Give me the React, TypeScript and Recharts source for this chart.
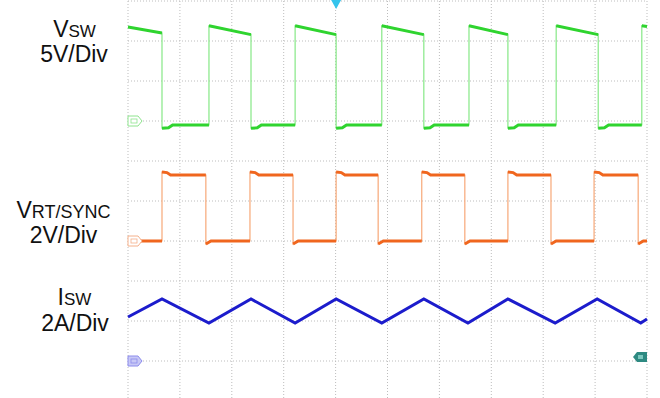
import React from "react";
import {
	LineChart,
	Line,
	XAxis,
	YAxis,
	CartesianGrid,
	ReferenceDot,
} from "recharts";

// time in scope divisions (10 across the screen)
const timeTicks = [0, 1, 2, 3, 4, 5, 6, 7, 8, 9, 10];

// V_SW, volts (5V/Div)
const vswTime = [
	0, 0.655, 0.655, 0.78, 0.86, 1.56, 1.56, 2.37, 2.37, 2.49, 2.57, 3.22, 3.22,
	4.01, 4.01, 4.13, 4.21, 4.89, 4.89, 5.7, 5.7, 5.82, 5.9, 6.57, 6.57, 7.32,
	7.32, 7.44, 7.52, 8.25, 8.25, 9.06, 9.06, 9.18, 9.26, 9.9, 9.9, 10,
];
const vswVolts = [
	11.75, 11.0, -0.9, -0.85, -0.5, -0.5, 11.9, 10.8, -0.9, -0.85, -0.5, -0.5,
	11.9, 10.8, -0.9, -0.85, -0.5, -0.5, 11.9, 10.8, -0.9, -0.85, -0.5, -0.5,
	11.9, 10.8, -0.9, -0.85, -0.5, -0.5, 11.9, 10.8, -0.9, -0.85, -0.5, -0.5,
	11.9, 11.8,
];

// V_RT/SYNC, volts (2V/Div)
const rtTime = [
	0, 0.655, 0.655, 0.75, 0.82, 1.5, 1.5, 1.6, 2.35, 2.35, 2.45, 2.52, 3.18,
	3.18, 3.28, 4.01, 4.01, 4.11, 4.18, 4.82, 4.82, 4.92, 5.66, 5.66, 5.76, 5.83,
	6.49, 6.49, 6.59, 7.32, 7.32, 7.42, 7.49, 8.15, 8.15, 8.25, 8.98, 8.98, 9.08,
	9.15, 9.83, 9.83, 9.93, 10,
];
const rtVolts = [
	0, 0, 3.45, 3.42, 3.3, 3.3, -0.15, 0, 0, 3.45, 3.42, 3.3, 3.3, -0.15, 0, 0,
	3.45, 3.42, 3.3, 3.3, -0.15, 0, 0, 3.45, 3.42, 3.3, 3.3, -0.15, 0, 0, 3.45,
	3.42, 3.3, 3.3, -0.15, 0, 0, 3.45, 3.42, 3.3, 3.3, -0.15, 0, 0,
];

// I_SW, amps (2A/Div)
const iswTime = [
	0, 0.655, 1.56, 2.37, 3.22, 4.01, 4.89, 5.7, 6.55, 7.32, 8.23, 9.04, 9.88, 10,
];
const iswAmps = [
	2.2, 3.1, 1.9, 3.1, 1.9, 3.1, 1.9, 3.1, 1.9, 3.1, 1.9, 3.1, 1.9, 2.1,
];

const toPoints = (ts: number[], vs: number[]) =>
	ts.map((t, i) => ({ t, v: vs[i] }));

// same trace but with the vertical edges cut out (drawn thick)
const levelsOnly = (ts: number[], vs: number[]) => {
	const out: { t: number; v: number | null }[] = [];
	ts.forEach((t, i) => {
		if (i > 0 && t === ts[i - 1]) out.push({ t, v: null });
		out.push({ t, v: vs[i] });
	});
	return out;
};

const groundTag =
	(stroke: string, fill: string) =>
	({ cx, cy }: any) => (
		<g>
			<path
				d={`M${cx},${cy - 5} H${cx + 10} L${cx + 14},${cy} L${cx + 10},${cy + 5} H${cx} Z`}
				fill={fill}
				stroke={stroke}
				strokeWidth={1}
			/>
			<rect x={cx + 3} y={cy - 2} width={6} height={4} fill="none" stroke={stroke} strokeWidth={0.8} />
		</g>
	);

const triggerMark = ({ cx, cy }: any) => (
	<path d={`M${cx - 5},${cy - 1} L${cx + 5},${cy - 1} L${cx},${cy + 8} Z`} fill="#35c4ec" />
);

const levelMark = ({ cx, cy }: any) => (
	<g>
		<path
			d={`M${cx},${cy - 5} H${cx - 10} L${cx - 14},${cy} L${cx - 10},${cy + 5} H${cx} Z`}
			fill="#2e8a82"
		/>
		<rect x={cx - 9} y={cy - 2} width={5} height={4} fill="#7cc8bf" />
	</g>
);

const labelFont = "'Liberation Sans', Arial, sans-serif";

export default function App() {
	return (
		<div
			style={{
				position: "absolute",
				left: 0,
				top: 0,
				width: 660,
				height: 398,
				overflow: "hidden",
				background: "#fff",
			}}
		>
			<LineChart
				width={660}
				height={402}
				margin={{ top: 1, right: 13, bottom: 1, left: 128 }}
			>
				<CartesianGrid
					yAxisId="vsw"
					stroke="#bdbdbd"
					strokeDasharray="1 2"
				/>
				<XAxis
					dataKey="t"
					type="number"
					domain={[0, 10]}
					ticks={timeTicks}
					hide
				/>
				<YAxis
					yAxisId="vsw"
					type="number"
					domain={[-35, 15]}
					ticks={[-35, -30, -25, -20, -15, -10, -5, 0, 5, 10, 15]}
					hide
				/>
				<YAxis yAxisId="rt" type="number" domain={[-8, 12]} hide />
				<YAxis yAxisId="isw" type="number" domain={[-2, 18]} hide />

				<Line
					yAxisId="vsw"
					data={toPoints(vswTime, vswVolts)}
					dataKey="v"
					type="linear"
					stroke="#86e886"
					strokeWidth={1.2}
					dot={false}
					isAnimationActive={false}
				/>
				<Line
					yAxisId="vsw"
					data={levelsOnly(vswTime, vswVolts)}
					dataKey="v"
					type="linear"
					stroke="#2fd42f"
					strokeWidth={3}
					dot={false}
					connectNulls={false}
					isAnimationActive={false}
				/>
				<Line
					yAxisId="rt"
					data={toPoints(rtTime, rtVolts)}
					dataKey="v"
					type="linear"
					stroke="#f7a878"
					strokeWidth={1.2}
					dot={false}
					isAnimationActive={false}
				/>
				<Line
					yAxisId="rt"
					data={levelsOnly(rtTime, rtVolts)}
					dataKey="v"
					type="linear"
					stroke="#f0661e"
					strokeWidth={3}
					dot={false}
					connectNulls={false}
					isAnimationActive={false}
				/>
				<Line
					yAxisId="isw"
					data={toPoints(iswTime, iswAmps)}
					dataKey="v"
					type="linear"
					stroke="#1c1ccc"
					strokeWidth={3}
					dot={false}
					isAnimationActive={false}
				/>

				<ReferenceDot yAxisId="vsw" x={0} y={0} shape={groundTag("#8ee48e", "#ffffff")} />
				<ReferenceDot yAxisId="rt" x={0} y={0} shape={groundTag("#f5b08a", "#ffffff")} />
				<ReferenceDot yAxisId="isw" x={0} y={0} shape={groundTag("#8c8cec", "#c8c8f6")} />
				<ReferenceDot yAxisId="vsw" x={4.01} y={15} shape={triggerMark} />
				<ReferenceDot yAxisId="isw" x={10} y={0.2} shape={levelMark} />
			</LineChart>

			<svg
				width={128}
				height={398}
				style={{ position: "absolute", left: 0, top: 0 }}
				fontFamily={labelFont}
				fill="#111"
			>
				<text x={74.5} y={37} textAnchor="middle" fontSize={23}>
					V<tspan fontSize={17}>SW</tspan>
				</text>
				<text x={74} y={62} textAnchor="middle" fontSize={23}>
					5V/Div
				</text>
				<text x={63.5} y={218} textAnchor="middle" fontSize={23}>
					V<tspan fontSize={18}>RT/SYNC</tspan>
				</text>
				<text x={63.5} y={243} textAnchor="middle" fontSize={23}>
					2V/Div
				</text>
				<text x={74.5} y={305} textAnchor="middle" fontSize={23}>
					I<tspan fontSize={17}>SW</tspan>
				</text>
				<text x={75} y={331} textAnchor="middle" fontSize={23}>
					2A/Div
				</text>
			</svg>
		</div>
	);
}
